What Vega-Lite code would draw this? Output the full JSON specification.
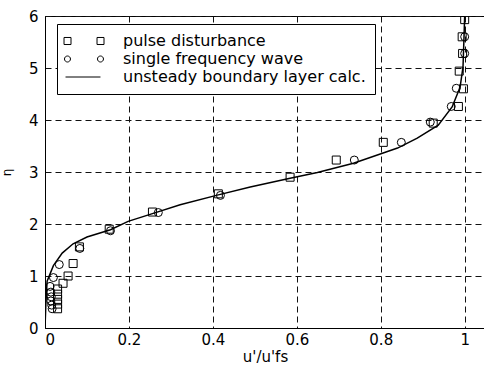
{
  "$schema": "https://vega.github.io/schema/vega-lite/v6.json",
  "width": 440,
  "height": 312,
  "autosize": {"type": "none"},
  "padding": {"left": 45, "top": 16, "right": 0, "bottom": 48},
  "background": "white",
  "config": {
    "view": {"stroke": "black", "strokeWidth": 1},
    "axis": {
      "domainColor": "black",
      "domainWidth": 1,
      "grid": true,
      "gridColor": "#111111",
      "gridDash": [6, 4],
      "gridWidth": 1,
      "gridOpacity": 1,
      "ticks": false,
      "tickSize": 0,
      "labelFont": "DejaVu Sans",
      "labelFontSize": 15,
      "labelColor": "black",
      "titleFont": "DejaVu Sans",
      "titleFontWeight": "normal",
      "titleColor": "black"
    }
  },
  "datasets": {
    "curve": [
      {"u": 0.0, "eta": 0.0},
      {"u": 0.002, "eta": 0.45},
      {"u": 0.005, "eta": 0.9},
      {"u": 0.02, "eta": 1.2},
      {"u": 0.041, "eta": 1.44},
      {"u": 0.067, "eta": 1.62},
      {"u": 0.1, "eta": 1.75},
      {"u": 0.156, "eta": 1.89},
      {"u": 0.198, "eta": 2.05},
      {"u": 0.256, "eta": 2.2},
      {"u": 0.322, "eta": 2.37},
      {"u": 0.413, "eta": 2.56},
      {"u": 0.489, "eta": 2.71},
      {"u": 0.584, "eta": 2.88},
      {"u": 0.649, "eta": 2.99},
      {"u": 0.735, "eta": 3.17},
      {"u": 0.804, "eta": 3.36},
      {"u": 0.84, "eta": 3.46},
      {"u": 0.887, "eta": 3.65},
      {"u": 0.937, "eta": 3.9},
      {"u": 0.97, "eta": 4.25},
      {"u": 0.989, "eta": 4.63},
      {"u": 0.996, "eta": 5.02},
      {"u": 0.998, "eta": 5.5},
      {"u": 1.0, "eta": 6.0}
    ],
    "points": [
      {"series": "pulse disturbance", "u": 1.0, "eta": 5.93},
      {"series": "pulse disturbance", "u": 0.994, "eta": 5.6},
      {"series": "pulse disturbance", "u": 0.995, "eta": 5.28},
      {"series": "pulse disturbance", "u": 0.987, "eta": 4.94},
      {"series": "pulse disturbance", "u": 0.997, "eta": 4.6},
      {"series": "pulse disturbance", "u": 0.985, "eta": 4.26},
      {"series": "pulse disturbance", "u": 0.925, "eta": 3.94},
      {"series": "pulse disturbance", "u": 0.806, "eta": 3.57},
      {"series": "pulse disturbance", "u": 0.694, "eta": 3.23},
      {"series": "pulse disturbance", "u": 0.584, "eta": 2.9},
      {"series": "pulse disturbance", "u": 0.413, "eta": 2.58},
      {"series": "pulse disturbance", "u": 0.256, "eta": 2.23},
      {"series": "pulse disturbance", "u": 0.153, "eta": 1.9},
      {"series": "pulse disturbance", "u": 0.082, "eta": 1.56},
      {"series": "pulse disturbance", "u": 0.067, "eta": 1.24},
      {"series": "pulse disturbance", "u": 0.055, "eta": 1.0},
      {"series": "pulse disturbance", "u": 0.043, "eta": 0.86},
      {"series": "pulse disturbance", "u": 0.03, "eta": 0.75},
      {"series": "pulse disturbance", "u": 0.03, "eta": 0.65},
      {"series": "pulse disturbance", "u": 0.03, "eta": 0.55},
      {"series": "pulse disturbance", "u": 0.03, "eta": 0.46},
      {"series": "pulse disturbance", "u": 0.03, "eta": 0.37},
      {"series": "single frequency wave", "u": 1.0, "eta": 5.6},
      {"series": "single frequency wave", "u": 1.0, "eta": 5.28},
      {"series": "single frequency wave", "u": 0.98, "eta": 4.61},
      {"series": "single frequency wave", "u": 0.968, "eta": 4.26},
      {"series": "single frequency wave", "u": 0.918, "eta": 3.96},
      {"series": "single frequency wave", "u": 0.849, "eta": 3.57},
      {"series": "single frequency wave", "u": 0.737, "eta": 3.23},
      {"series": "single frequency wave", "u": 0.418, "eta": 2.55},
      {"series": "single frequency wave", "u": 0.27, "eta": 2.22},
      {"series": "single frequency wave", "u": 0.156, "eta": 1.87},
      {"series": "single frequency wave", "u": 0.083, "eta": 1.53},
      {"series": "single frequency wave", "u": 0.034, "eta": 1.22},
      {"series": "single frequency wave", "u": 0.02, "eta": 0.97},
      {"series": "single frequency wave", "u": 0.012, "eta": 0.8},
      {"series": "single frequency wave", "u": 0.014, "eta": 0.69},
      {"series": "single frequency wave", "u": 0.015, "eta": 0.6},
      {"series": "single frequency wave", "u": 0.014, "eta": 0.52},
      {"series": "single frequency wave", "u": 0.016, "eta": 0.44},
      {"series": "single frequency wave", "u": 0.017, "eta": 0.37}
    ]
  },
  "resolve": {"scale": {"shape": "independent"}},
  "layer": [
    {
      "data": {"name": "curve"},
      "mark": {"type": "line", "color": "black", "strokeWidth": 1.5, "clip": true},
      "encoding": {
        "x": {
          "field": "u", "type": "quantitative",
          "scale": {"domain": [0, 1.0484], "nice": false, "zero": false},
          "axis": {"values": [0, 0.2, 0.4, 0.6, 0.8, 1], "format": "~g", "title": "u'/u'fs", "titleFontSize": 15, "labelPadding": 4, "titlePadding": 2}
        },
        "y": {
          "field": "eta", "type": "quantitative",
          "scale": {"domain": [0, 6], "nice": false},
          "axis": {"values": [0, 1, 2, 3, 4, 5, 6], "format": "d", "title": "η", "titleFontSize": 12, "labelPadding": 7, "titlePadding": 15}
        },
        "order": {"field": "eta", "type": "quantitative"}
      }
    },
    {
      "data": {"name": "points"},
      "mark": {"type": "point", "filled": false, "color": "black", "strokeWidth": 1, "size": 64, "opacity": 1, "clip": true},
      "encoding": {
        "x": {"field": "u", "type": "quantitative"},
        "y": {"field": "eta", "type": "quantitative"},
        "shape": {
          "field": "series", "type": "nominal",
          "scale": {"domain": ["pulse disturbance", "single frequency wave"], "range": ["square", "circle"]},
          "legend": null
        }
      }
    },
    {
      "data": {"name": "points"},
      "transform": [{"filter": "datum.eta < 0"}],
      "mark": {"type": "point", "filled": false, "color": "black", "strokeWidth": 1, "opacity": 1},
      "encoding": {
        "x": {"field": "u", "type": "quantitative"},
        "y": {"field": "eta", "type": "quantitative"},
        "shape": {
          "field": "series", "type": "nominal",
          "scale": {
            "domain": ["pulse disturbance", "single frequency wave", "unsteady boundary layer calc."],
            "range": [
              "M-1.33,-0.47H-0.4V0.47H-1.33Z M3.07,-0.47H4V0.47H3.07Z",
              "M-1.27,0A0.4,0.4 0 1,0 -0.47,0A0.4,0.4 0 1,0 -1.27,0Z M3.13,0A0.4,0.4 0 1,0 3.93,0A0.4,0.4 0 1,0 3.13,0Z",
              "M-1.13,0H3.53"
            ]
          },
          "legend": {
            "orient": "none",
            "legendX": 12,
            "legendY": 8,
            "title": null,
            "padding": 9,
            "strokeColor": "black",
            "fillColor": "white",
            "symbolSize": 225,
            "labelOffset": 41,
            "labelFont": "DejaVu Sans",
            "labelFontSize": 16,
            "labelColor": "black",
            "labelLimit": 400,
            "rowPadding": 2,
            "symbolStrokeColor": "black",
            "symbolFillColor": "transparent",
            "symbolStrokeWidth": 1
          }
        }
      }
    }
  ]
}
